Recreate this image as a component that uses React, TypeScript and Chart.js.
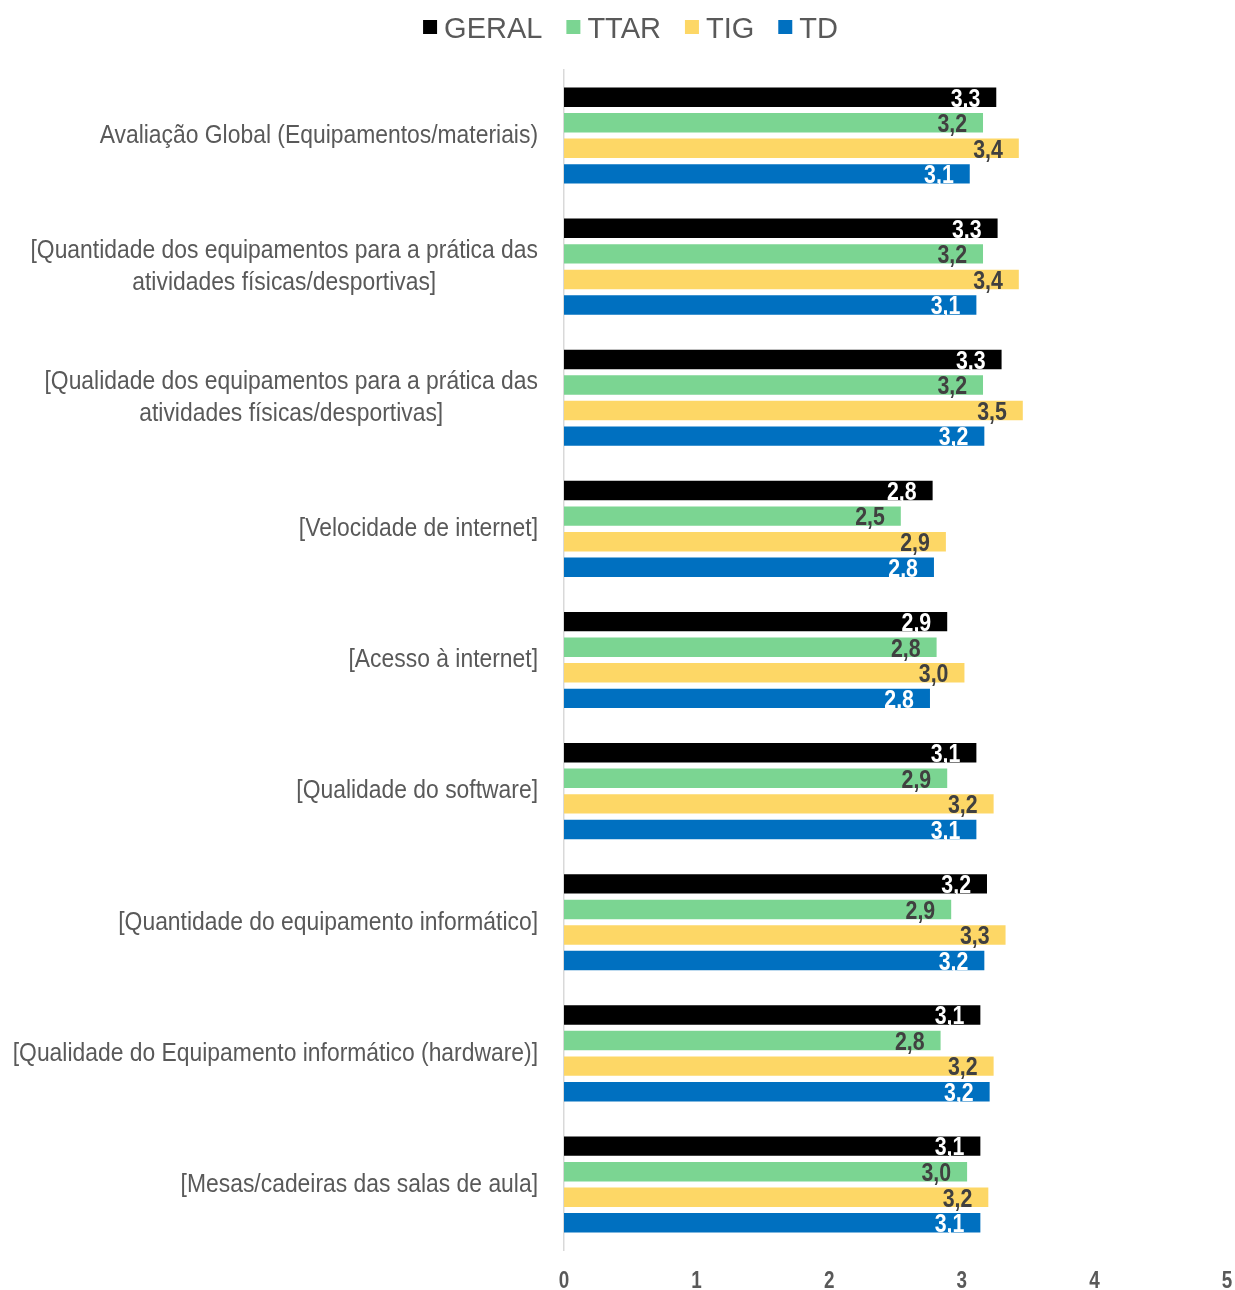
import React, { useEffect, useRef } from "react";
import { Chart, registerables } from "chart.js";

Chart.register(...registerables);

const categories: (string | string[])[] = [
  "Avaliação Global (Equipamentos/materiais)",
  ["[Quantidade dos equipamentos para a prática das", "atividades físicas/desportivas]"],
  ["[Qualidade dos equipamentos para a prática das", "atividades físicas/desportivas]"],
  "[Velocidade de internet]",
  "[Acesso à internet]",
  "[Qualidade do software]",
  "[Quantidade do equipamento informático]",
  "[Qualidade do Equipamento informático (hardware)]",
  "[Mesas/cadeiras das salas de aula]",
];

const seriesNames = ["GERAL", "TTAR", "TIG", "TD"];
const geral = [3.26, 3.27, 3.3, 2.78, 2.89, 3.11, 3.19, 3.14, 3.14];
const ttar = [3.16, 3.16, 3.16, 2.54, 2.81, 2.89, 2.92, 2.84, 3.04];
const tig = [3.43, 3.43, 3.46, 2.88, 3.02, 3.24, 3.33, 3.24, 3.2];
const td = [3.06, 3.11, 3.17, 2.79, 2.76, 3.11, 3.17, 3.21, 3.14];
const seriesColors = ["#000000", "#7BD592", "#FDD766", "#0070C0"];
const labelColors = ["#FFFFFF", "#404040", "#404040", "#FFFFFF"];
const xTicks = [0, 1, 2, 3, 4, 5];

const FONT = '"Liberation Sans", Arial, sans-serif';
const TEXT_GRAY = "#595959";

const fmt = (v: number) => v.toFixed(1).replace(".", ",");

function drawText(ctx: CanvasRenderingContext2D, text: string, x: number, y: number, align: CanvasTextAlign, sx: number) {
  ctx.save();
  ctx.translate(x, y);
  ctx.scale(sx, 1);
  ctx.textAlign = align;
  ctx.fillText(text, 0, 0);
  ctx.restore();
}

const customPlugin = {
  id: "custom",
  afterDatasetsDraw(chart: any) {
    const ctx = chart.ctx;
    ctx.save();
    const size = 26;
    ctx.font = `bold ${size}px ${FONT}`;
    ctx.textBaseline = "alphabetic";
    chart.data.datasets.forEach((ds: any, di: number) => {
      const meta = chart.getDatasetMeta(di);
      meta.data.forEach((bar: any, i: number) => {
        ctx.fillStyle = labelColors[di];
        drawText(ctx, fmt(ds.data[i]), bar.x - 16, bar.y + size * 0.36, "right", 0.82);
      });
    });
    ctx.restore();
  },
  afterDraw(chart: any) {
    const ctx = chart.ctx;
    const yScale = chart.scales.y;
    const xScale = chart.scales.x;
    const { left, bottom } = chart.chartArea;
    ctx.save();
    // category labels
    const cs = 26, csx = 0.88;
    ctx.font = `${cs}px ${FONT}`;
    ctx.fillStyle = TEXT_GRAY;
    ctx.textBaseline = "alphabetic";
    const lh = 32;
    categories.forEach((c, i) => {
      const lines = Array.isArray(c) ? c : [c];
      const maxW = Math.max(...lines.map((l) => ctx.measureText(l).width)) * csx;
      const cx = left - 26 - maxW / 2;
      const cy = yScale.getPixelForValue(i) - 2;
      lines.forEach((l, k) => {
        const ly = cy + (k - (lines.length - 1) / 2) * lh;
        drawText(ctx, l, cx, ly + cs * 0.36, "center", csx);
      });
    });
    // x tick labels
    ctx.font = `bold 23px ${FONT}`;
    xTicks.forEach((v) => {
      drawText(ctx, String(v), xScale.getPixelForValue(v), bottom + 38, "center", 0.82);
    });
    // legend
    ctx.font = `29px ${FONT}`;
    ctx.textBaseline = "alphabetic";
    const box = 14, gap = 7, itemGap = 24;
    const widths = seriesNames.map((n) => box + gap + ctx.measureText(n).width);
    const total = widths.reduce((a, b) => a + b, 0) + itemGap * (seriesNames.length - 1);
    let x = 630.5 - total / 2;
    const ly = 27;
    seriesNames.forEach((n, i) => {
      ctx.fillStyle = seriesColors[i];
      ctx.fillRect(x, ly - box / 2, box, box);
      ctx.fillStyle = TEXT_GRAY;
      drawText(ctx, n, x + box + gap, ly + 10.5, "left", 1);
      x += widths[i] + itemGap;
    });
    ctx.restore();
  },
};

export default function App() {
  const ref = useRef<HTMLCanvasElement>(null);
  useEffect(() => {
    document.body.style.margin = "0";
    const data = [geral, ttar, tig, td];
    const chart = new Chart(ref.current!, {
      type: "bar",
      data: {
        labels: categories.map((c) => (Array.isArray(c) ? c.join(" ") : c)),
        datasets: seriesNames.map((n, i) => ({
          label: n,
          data: data[i],
          backgroundColor: seriesColors[i],
          borderWidth: 0,
          categoryPercentage: 0.78,
          barPercentage: 0.76,
        })),
      },
      options: {
        indexAxis: "y",
        animation: false,
        responsive: false,
        layout: { padding: { top: 70, right: 8, left: 0, bottom: 0 } },
        plugins: { legend: { display: false }, tooltip: { enabled: false } },
        scales: {
          x: {
            min: 0,
            max: 5,
            afterFit: (s: any) => {
              s.height = 40;
            },
            grid: { display: false, drawTicks: false },
            border: { display: false },
            ticks: { display: false, stepSize: 1 },
          },
          y: {
            afterFit: (s: any) => {
              s.width = 564;
            },
            grid: { display: false, drawTicks: false },
            border: { display: true, color: "#D9D9D9", width: 1.5 },
            ticks: { display: false },
          },
        },
      },
      plugins: [customPlugin],
    } as any);
    return () => chart.destroy();
  }, []);
  return <canvas ref={ref} width={1235} height={1290} style={{ display: "block" }} />;
}
